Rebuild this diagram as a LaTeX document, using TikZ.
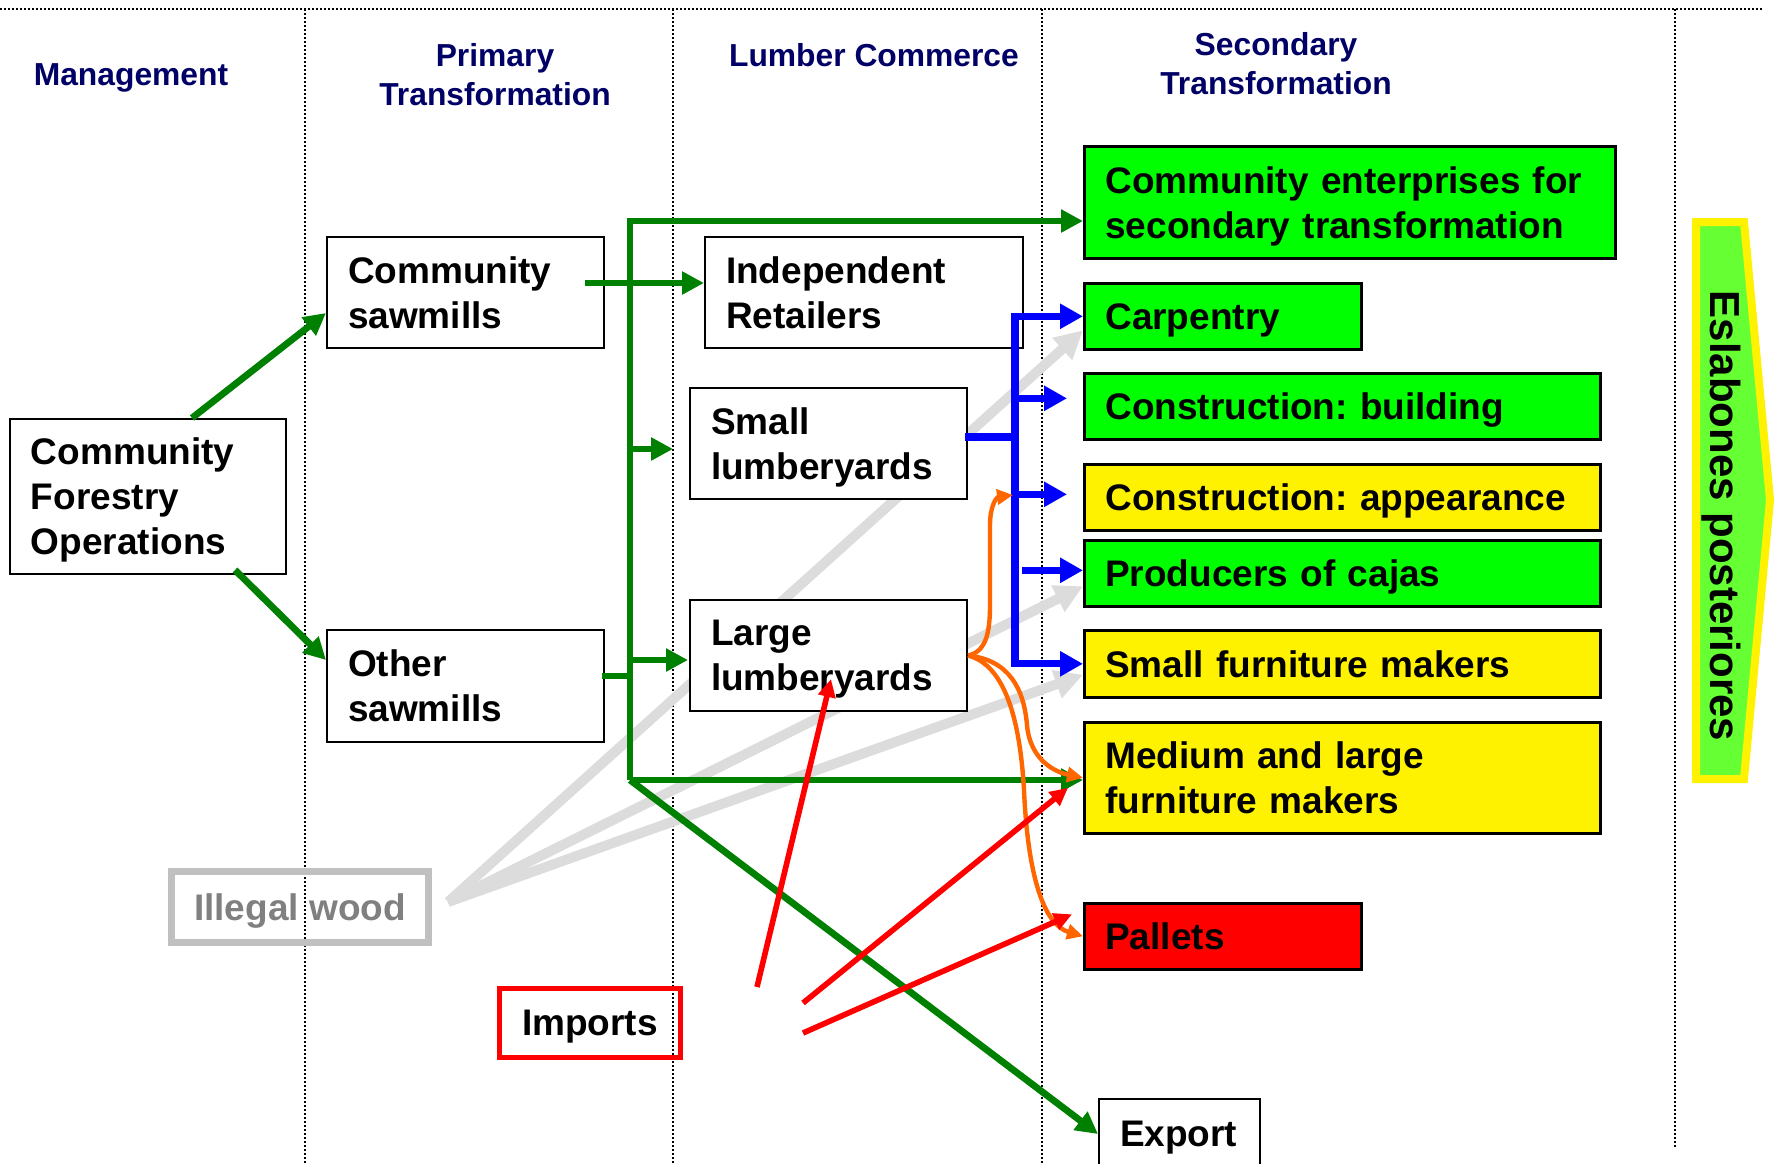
\documentclass[tikz,border=0pt]{standalone}
\usepackage{fontspec}
\setmainfont{Liberation Sans}
\usetikzlibrary{arrows.meta,backgrounds}
\definecolor{dgreen}{RGB}{0,128,0}
\definecolor{navyh}{RGB}{0,0,102}
\definecolor{lgray}{RGB}{220,220,220}
\definecolor{borderg}{RGB}{192,192,192}
\definecolor{textg}{RGB}{128,128,128}
\definecolor{orng}{RGB}{255,102,0}
\definecolor{eslg}{RGB}{102,255,51}
\definecolor{bgreen}{RGB}{0,255,0}
\frenchspacing
\begin{document}
\begin{tikzpicture}[x=0.5pt,y=-0.5pt,
  hdr/.style={font=\fontsize{15.9}{19.5}\selectfont\bfseries, text=navyh, align=center, inner sep=0pt},
  box/.style={draw=black, line width=1pt, fill=white, anchor=north west, inner xsep=10.5pt, inner ysep=0pt, align=left, font=\fontsize{18.5}{22.5}\selectfont\bfseries},
  sl/.style={text depth=0pt},
  cbox/.style={box, line width=1.3pt},
  dotline/.style={draw=black, line width=0.6pt, dash pattern=on 0.8pt off 1.2pt},
  gl/.style={draw=dgreen, line width=3.4pt},
  garr/.style={gl, -{Triangle[length=11pt,width=11pt]}},
  bl/.style={draw=blue, line width=3.6pt},
  barr/.style={bl, -{Triangle[length=11.5pt,width=12pt]}},
  grarr/.style={draw=lgray, line width=5pt, -{Triangle[length=14pt,width=14pt]}},
  oarr/.style={draw=orng, line width=2.2pt, -{Triangle[length=8pt,width=7.5pt]}},
  rarr/.style={draw=red, line width=2.8pt, -{Triangle[length=9pt,width=8.5pt]}}
]
\useasboundingbox (0,0) rectangle (1778,1163);

% headers
\node[hdr] (hman) at (131,78) {Management};
\node[hdr] (hpri) at (495,75) {Primary\\Transformation};
\node[hdr] (hlum) at (874,55) {Lumber Commerce};
\node[hdr] (hsec) at (1276,64) {Secondary\\Transformation};

% left / middle boxes
\node[box, text width=117pt, minimum height=77.5pt] (cfo) at (9,418) {Community\\Forestry\\\smash{Operations}};
\node[box, text width=117.5pt, minimum height=55.5pt] (csaw) at (326,236) {Community\\sawmills};
\node[box, text width=117.5pt, minimum height=56pt] (osaw) at (326,629) {Other\\sawmills};
\node[box, text width=138pt, minimum height=55.5pt] (indr) at (704,236) {Independent\\Retailers};
\node[box, text width=117.5pt, minimum height=55.5pt] (smly) at (689,387) {Small\\\smash{lumberyards}};
\node[box, text width=117.5pt, minimum height=55.5pt] (lgly) at (689,599) {Large\\\smash{lumberyards}};

% right boxes
\node[cbox, fill=bgreen, text width=244.5pt, minimum height=56pt] (cest) at (1083,145) {Community enterprises for\\\smash{secondary transformation}};
\node[cbox, sl, fill=bgreen, text width=117.5pt, minimum height=33pt] (carp) at (1083,282) {Carpentry};
\node[cbox, sl, fill=bgreen, text width=237pt, minimum height=33pt] (cbld) at (1083,372) {Construction: building};
\node[cbox, sl, fill=yellow, text width=237pt, minimum height=33pt] (capp) at (1083,463) {Construction: appearance};
\node[cbox, sl, fill=bgreen, text width=237pt, minimum height=33pt] (cajs) at (1083,539) {Producers of cajas};
\node[cbox, sl, fill=yellow, text width=237pt, minimum height=33.5pt] (sfur) at (1083,629) {Small furniture makers};
\node[cbox, fill=yellow, text width=237pt, minimum height=55.5pt] (mfur) at (1083,721) {Medium and large\\furniture makers};
\node[cbox, sl, fill=red, text width=117.5pt, minimum height=33pt] (pall) at (1083,902) {Pallets};
\node[box, sl, text width=59.5pt, minimum height=35pt] (expo) at (1098,1098) {Export};

% illegal wood and imports
\node[draw=borderg, line width=3.5pt, text=textg, minimum width=128.5pt, minimum height=35.5pt, inner sep=0pt, sl, font=\fontsize{18.5}{22.5}\selectfont\bfseries] (ilw) at (300,907) {Illegal wood};
\node[draw=red, line width=2.5pt, minimum width=90.5pt, minimum height=34.5pt, inner sep=0pt, sl, font=\fontsize{18.5}{22.5}\selectfont\bfseries] (imp) at (590,1023) {Imports};

% Eslabones posteriores
\draw[draw=yellow, line width=4pt, fill=eslg, line join=miter] (1696,222) -- (1744,222) -- (1770,500) -- (1744,779) -- (1696,779) -- cycle;
\node[rotate=-90, inner sep=0pt, font=\fontsize{21}{25}\selectfont\bfseries] (esl) at (1721,516) {Eslabones posteriores};

% coordinates
\coordinate (ttop) at (630,221);
\coordinate (tbot) at (630,780);
\coordinate (bus) at (1015,500);
\coordinate (igs) at (448,902);
\coordinate (im1) at (757,987);
\coordinate (im2) at (803,1003);
\coordinate (im3) at (803,1033);
\coordinate (oA) at (1013,495);

% background: dotted column lines and gray illegal wood arrows
\begin{pgfonlayer}{background}
\draw[dotline] (0,9) -- (1763,9);
\draw[dotline] (305,9) -- (305,1163);
\draw[dotline] (673,9) -- (673,1163);
\draw[dotline] (1042,9) -- (1042,1163);
\draw[dotline] (1675,9) -- (1675,1148);
\draw[grarr] (igs) -- ([shift={(0,14)}]carp.west);
\draw[grarr] (igs) -- ([shift={(0,13)}]cajs.west);
\draw[grarr] (igs) -- ([shift={(0,11)}]sfur.west);
\end{pgfonlayer}

% green connectors
\draw[garr] ([shift={(183,0)}]cfo.north west) -- ([shift={(0,20.5)}]csaw.west);
\draw[garr] ([shift={(226,-5)}]cfo.south west) -- ([shift={(0,-26)}]osaw.west);
\draw[garr] ([shift={(-20,-9.5)}]csaw.east) -- ([shift={(0,-9.5)}]indr.west);
\draw[garr, line join=miter] (tbot) -- (ttop) -- (ttop -| cest.west);
\path ([shift={(-16,5.5)}]smly.west) coordinate (sIn);
\draw[garr] (ttop |- sIn) -- (sIn);
\path ([shift={(-1,4.5)}]lgly.west) coordinate (lIn);
\draw[garr] (ttop |- lIn) -- (lIn);
\path ([shift={(-3,-10)}]osaw.east) coordinate (oOut);
\draw[gl] (oOut) -- (ttop |- oOut);
\draw[garr] (tbot) -- (tbot -| mfur.west);
\draw[garr] (tbot) -- (expo.west);

% blue connectors
\draw[bl, {Triangle[length=11.5pt,width=12pt]}-{Triangle[length=11.5pt,width=12pt]}, line join=miter]
  (carp.west) -- (carp.west -| bus) -- (sfur.west -| bus) -- (sfur.west);
\path ([shift={(-16,-8)}]cbld.west) coordinate (bIn);
\draw[barr] (bIn -| bus) -- (bIn);
\path ([shift={(-16,-3)}]capp.west) coordinate (aIn);
\draw[barr] (aIn -| bus) -- (aIn);
\path ([shift={(-3,-6.5)}]smly.east) coordinate (sOut);
\draw[bl] (sOut) -- (sOut -| bus);
\draw[barr] ([shift={(-61,-3)}]cajs.west) -- ([shift={(0,-3)}]cajs.west);

% orange connectors
\draw[oarr] (lgly.east) .. controls (985,652) and (990,635) .. (990,605) -- (990,525) .. controls (990,505) and (997,497) .. (oA);
\draw[oarr] (lgly.east) .. controls (1010,660) and (1024,690) .. (1027,725) .. controls (1030,760) and (1055,772) .. (mfur.west);
\draw[oarr] (lgly.east) .. controls (1005,665) and (1020,720) .. (1024,790) .. controls (1028,880) and (1045,925) .. (pall.west);

% red connectors
\draw[rarr] (im1) -- ([shift={(142,-33)}]lgly.south west);
\draw[rarr] (im2) -- ([shift={(-15,10)}]mfur.west);
\draw[rarr] (im3) -- ([shift={(-11,-22)}]pall.west);
\end{tikzpicture}
\end{document}
